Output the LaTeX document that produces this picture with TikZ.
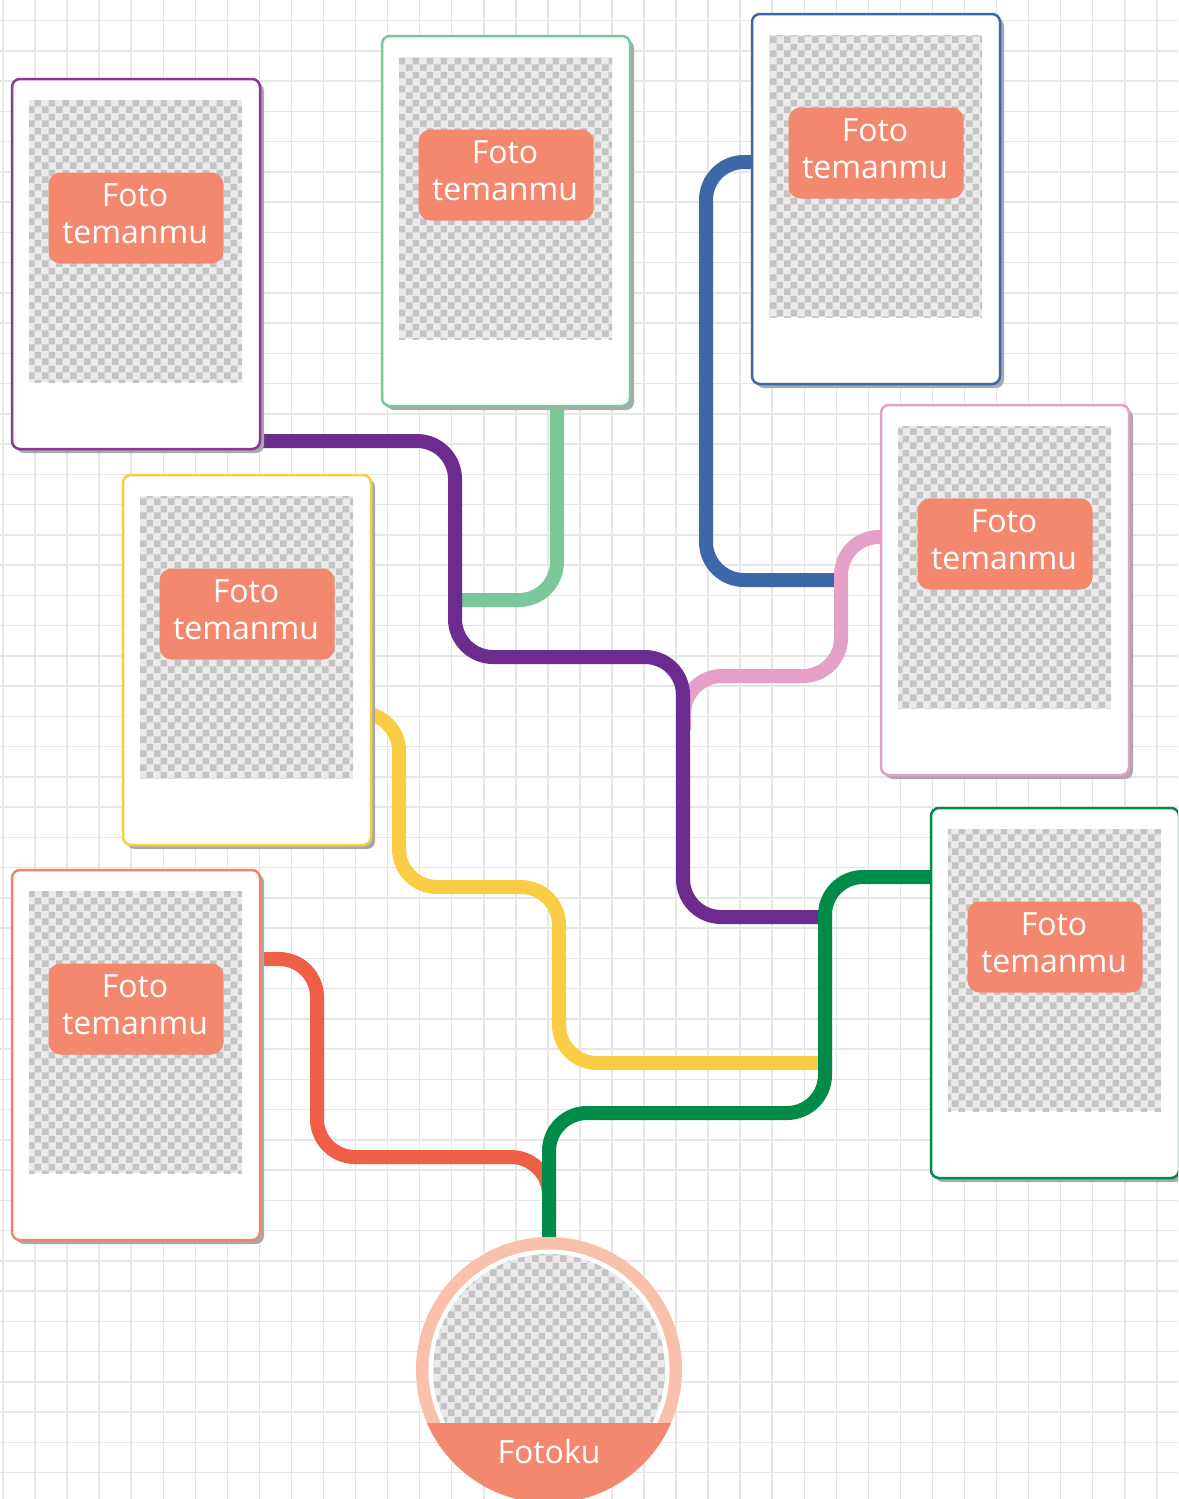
\documentclass[tikz,border=0pt]{standalone}
\usepackage{fontspec}
\setmainfont{Open Sans}
\usetikzlibrary{calc,patterns,shadows}
\pgfdeclarepatternformonly{checkers}{\pgfpointorigin}{\pgfpoint{14pt}{14pt}}{\pgfpoint{14pt}{14pt}}{%
  \pgfpathrectangle{\pgfpointorigin}{\pgfpoint{7pt}{7pt}}%
  \pgfpathrectangle{\pgfpoint{7pt}{7pt}}{\pgfpoint{7pt}{7pt}}%
  \pgfusepath{fill}}
\definecolor{gridcol}{HTML}{E6E6E6}
\definecolor{shadowgray}{HTML}{A7A9AB}
\definecolor{checkLight}{HTML}{EAEAEA}
\definecolor{checkDark}{HTML}{C4C4C4}
\definecolor{tagfill}{HTML}{F4886E}
\definecolor{ringcol}{HTML}{F9C1AC}
\definecolor{purpleL}{HTML}{6C2B8F}
\definecolor{purpleB}{HTML}{8E3398}
\definecolor{mintL}{HTML}{7AC799}
\definecolor{blueL}{HTML}{3E67AA}
\definecolor{pinkL}{HTML}{E4A0C6}
\definecolor{yellowL}{HTML}{FBCD45}
\definecolor{greenL}{HTML}{008B4A}
\definecolor{redL}{HTML}{EF5F47}
\definecolor{redB}{HTML}{F0836A}
\tikzset{
  conn/.style={line width=14pt, rounded corners=38pt},
  card/.style={draw=#1, line width=2.5pt, fill=white, rounded corners=8pt,
    minimum width=248pt, minimum height=370pt, anchor=north west,
    inner sep=0pt, outer sep=0pt,
    drop shadow={shadow xshift=4pt, shadow yshift=-4pt, fill=shadowgray, opacity=1}},
  photo/.style={anchor=north west, minimum width=213pt, minimum height=282pt,
    inner sep=0pt, outer sep=0pt, fill=checkLight,
    postaction={pattern=checkers, pattern color=checkDark}},
  tagbox/.style={fill=tagfill, rounded corners=12pt, minimum width=175pt,
    minimum height=91pt, inner sep=0pt},
  tagtext/.style={inner sep=0pt, text=white, align=center,
    font=\fontsize{32}{37}\selectfont},
  gridline/.style={draw=gridcol, line width=1.5pt}
}
\begin{document}
\begin{tikzpicture}[x=1pt,y=-1pt]
\useasboundingbox (0,0) rectangle (1178,1499);
\clip (0,0) rectangle (1178,1499);
\fill[white] (0,0) rectangle (1178,1499);
% grid
\foreach \i in {0,...,36} \draw[gridline] ({3+32.05*\i},0) -- ({3+32.05*\i},1499);
\foreach \j in {0,...,49} \draw[gridline] (0,{20.7+30.25*\j}) -- (1178,{20.7+30.25*\j});

% card anchors
\coordinate (k1) at (12,79);
\coordinate (k2) at (382,36);
\coordinate (k3) at (752,14);
\coordinate (k4) at (881,405);
\coordinate (k5) at (123,475);
\coordinate (k6) at (931,808);
\coordinate (k7) at (12,870);
\coordinate (me) at (549,1370);

% connectors
\draw[conn, blueL] ($(k3)+(20,148)$) -- (706,162) -- (706,580) -- (841,580);
\draw[conn, pinkL] ($(k4)+(20,132)$) -- (841,537) -- (841,676) -- (684,676) -- (684,730);
\draw[conn, mintL] ($(k2)+(175,350)$) -- (557,600) -- (455,600);
\draw[conn, purpleL] ($(k1)+(230,362)$) -- (455,441) -- (455,657) -- (683,657) -- (683,917) -- (825,917);
\draw[conn, yellowL] ($(k5)+(220,238)$) -- (399,713) -- (399,887) -- (559,887) -- (559,1063) -- (825,1063);
\draw[conn, redL] ($(k7)+(230,89)$) -- (317,959) -- (317,1157) -- (549,1157) -- (549,1220);
\draw[conn, greenL] ($(k6)+(20,69)$) -- (825,877) -- (825,1113) -- (549,1113) -- (me |- 0,1260);

% cards
\foreach \k/\c in {1/purpleB,2/mintL,3/blueL,4/pinkL,5/yellowL,6/greenL,7/redB}{
  \node[card=\c] (c\k) at (k\k) {};
  \node[photo] (p\k) at ($(c\k.north west)+(17,21)$) {};
  \node[tagbox] (t\k) at ($(c\k.north west)+(124,139)$) {};
  \node[tagtext] (x\k) at ($(t\k.center)+(-1,-4)$) {Foto\\temanmu};
}

% my photo
\node[circle, fill=ringcol, minimum size=266pt, inner sep=0pt] (ring) at (me) {};
\node[circle, fill=white, minimum size=241pt, inner sep=0pt] (gap) at (me) {};
\node[circle, fill=checkLight, minimum size=232pt, inner sep=0pt,
      postaction={pattern=checkers, pattern color=checkDark}] (mine) at (me) {};
\begin{scope}
  \clip (me) circle[radius=133pt];
  \fill[tagfill] (400,1423) rectangle (700,1520);
\end{scope}
\node[text=white, font=\fontsize{32}{37}\selectfont] (name) at (549,1451) {Fotoku};
\end{tikzpicture}
\end{document}
